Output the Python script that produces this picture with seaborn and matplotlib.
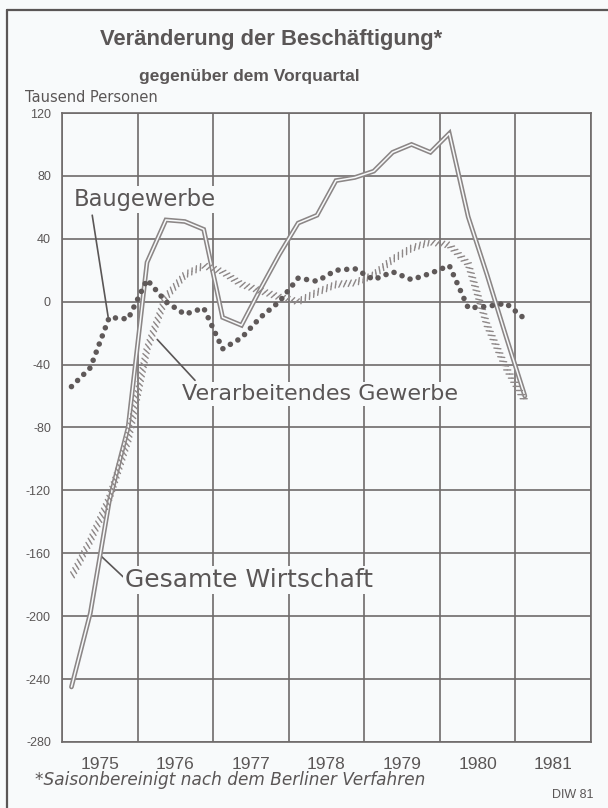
import numpy as np
import pandas as pd
import seaborn as sns
import matplotlib.pyplot as plt
import matplotlib.patheffects as pe
from matplotlib.lines import Line2D
from matplotlib.ticker import MultipleLocator

# Quarterly data 1975 Q1 - 1981 Q1 (Tausend Personen, change vs previous quarter)
years = [1975] * 4 + [1976] * 4 + [1977] * 4 + [1978] * 4 + [1979] * 4 + [1980] * 4 + [1981]
quarters = [1, 2, 3, 4] * 6 + [1]
gesamte_wirtschaft = [-245, -198, -127, -80, 25, 52, 51, 46, -10, -15, 8, 30,
                      50, 55, 77, 79, 83, 95, 100, 95, 107, 54, 17, -22, -60]
verarbeitendes_gewerbe = [-175, -152, -125, -88, -30, 3, 17, 23, 19, 11, 7, 3,
                          0, 6, 11, 12, 17, 27, 34, 38, 36, 24, -15, -42, -63]
baugewerbe = [-54, -42, -10, -11, 14, 0, -8, -4, -30, -23, -10, 0,
              15, 13, 20, 21, 14, 19, 14, 18, 23, -4, -3, -1, -11]
year_labels = ["1975", "1976", "1977", "1978", "1979", "1980", "1981"]

df = pd.DataFrame({"year": years, "quarter": quarters,
                   "gesamt": gesamte_wirtschaft,
                   "verarb": verarbeitendes_gewerbe,
                   "bau": baugewerbe})
df["x"] = df["year"] + (df["quarter"] - 0.5) / 4

sns.set_style("white")
plt.rcParams["font.family"] = ["Liberation Sans", "DejaVu Sans"]
plt.rcParams["axes.unicode_minus"] = False

bg = "#f8fafb"
ink = "#5a5656"
grid_c = "#6f6a6a"

fig = plt.figure(figsize=(6.08, 8.08), dpi=100, facecolor=bg)
ax = fig.add_axes([62 / 608, 1 - 742 / 808, (591 - 62) / 608, (742 - 113) / 808])
ax.set_facecolor(bg)

# Outer frame
fig.add_artist(Line2D([7 / 608, 7 / 608], [0, 1 - 10 / 808], color=ink, lw=1.6))
fig.add_artist(Line2D([7 / 608, 1], [1 - 10 / 808, 1 - 10 / 808], color=ink, lw=1.6))

# Gesamte Wirtschaft: double line
sns.lineplot(data=df, x="x", y="gesamt", ax=ax, color="#8b8686", lw=3.4,
             zorder=4, solid_joinstyle="miter")
sns.lineplot(data=df, x="x", y="gesamt", ax=ax, color=bg, lw=1.1, zorder=4.1)

# Verarbeitendes Gewerbe: "ssss" textured line
sns.lineplot(data=df, x="x", y="verarb", ax=ax, color="#8e8888", lw=1.0, zorder=4.2,
             path_effects=[pe.TickedStroke(spacing=3.4, angle=60, length=0.75),
                           pe.TickedStroke(spacing=3.4, angle=-120, length=0.75)])

# Baugewerbe: big dots
sns.lineplot(data=df, x="x", y="bau", ax=ax, color="#5f5959", lw=4.0, zorder=4.3,
             linestyle=(0, (0.01, 1.55)), dash_capstyle="round")

# Grid
ax.set_xlim(1975, 1982)
ax.set_ylim(-280, 120)
ax.set_yticks(np.arange(-280, 121, 40))
ax.set_xticks(np.arange(1975, 1983, 1))
ax.xaxis.set_minor_locator(MultipleLocator(0.25))
ax.grid(True, which="major", color=grid_c, lw=1.2)
for s in ax.spines.values():
    s.set_color(grid_c)
    s.set_linewidth(1.2)
ax.tick_params(axis="y", length=0, pad=8, labelsize=9, labelcolor=ink)
ax.tick_params(axis="x", which="major", direction="out", length=15, width=1.2,
               color=grid_c, labelbottom=False)
ax.tick_params(axis="x", which="minor", direction="in", length=5, width=1.0,
               color=grid_c)
ax.set_xlabel("")
ax.set_ylabel("")
for i, lab in enumerate(year_labels):
    ax.text(1975.5 + i, -0.035, lab, transform=ax.get_xaxis_transform(),
            ha="center", va="center", fontsize=12.5, color=ink)

# Series labels with pointers
ax.plot([1975.40, 1975.61], [55, -9.5], color=ink, lw=1.2, zorder=3)
ax.plot([1976.26, 1976.76], [-24, -50], color=ink, lw=1.2, zorder=3)
ax.plot([1975.50, 1975.81], [-161, -175], color=ink, lw=1.2, zorder=3)
box = dict(facecolor=bg, edgecolor="none", pad=1.5)
ax.text(1975.15, 65, "Baugewerbe", fontsize=16.3, color=ink, va="center",
        family="DejaVu Sans", bbox=box, zorder=3.5)
ax.text(1976.59, -59, "Verarbeitendes Gewerbe", fontsize=16, color=ink, va="center",
        family="DejaVu Sans", bbox=box, zorder=3.5)
ax.text(1975.83, -177, "Gesamte Wirtschaft", fontsize=18, color=ink, va="center",
        family="DejaVu Sans", bbox=box, zorder=3.5)

# Titles and notes
fig.text(271 / 608, 1 - 40 / 808, "Veränderung der Beschäftigung*", ha="center",
         va="center", fontsize=15.8, weight="bold", color=ink)
fig.text(249 / 608, 1 - 77 / 808, "gegenüber dem Vorquartal", ha="center",
         va="center", fontsize=12.5, weight="bold", color=ink)
fig.text(25 / 608, 1 - 97 / 808, "Tausend Personen", ha="left", va="center",
         fontsize=10.5, color=ink, family="DejaVu Sans")
fig.text(35 / 608, 1 - 780 / 808, "*Saisonbereinigt nach dem Berliner Verfahren",
         ha="left", va="center", fontsize=12.2, style="italic", color=ink,
         family="DejaVu Sans")
fig.text(593 / 608, 1 - 795 / 808, "DIW 81", ha="right", va="center",
         fontsize=9, color=ink)

fig.savefig("out.png", dpi=100, facecolor=bg)
